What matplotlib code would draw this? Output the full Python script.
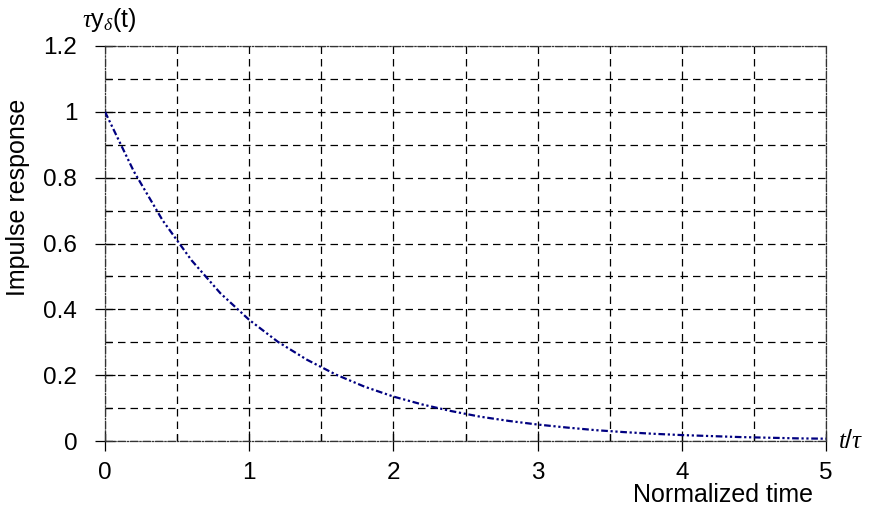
import matplotlib
matplotlib.use("Agg")
import matplotlib.pyplot as plt
from matplotlib.ticker import MultipleLocator

plt.rcParams['font.family'] = ['Liberation Sans', 'DejaVu Sans']
plt.rcParams['mathtext.fontset'] = 'custom'
plt.rcParams['mathtext.rm'] = 'Liberation Sans'
plt.rcParams['mathtext.it'] = 'Liberation Serif:italic'

t_values = [0.0, 0.2, 0.4, 0.6, 0.8, 1.0, 1.2, 1.4, 1.6, 1.8, 2.0, 2.2, 2.4, 2.6,
            2.8, 3.0, 3.2, 3.4, 3.6, 3.8, 4.0, 4.2, 4.4, 4.6, 4.8, 5.0]
response = [1.0, 0.819, 0.670, 0.549, 0.449, 0.368, 0.301, 0.247, 0.202, 0.165,
            0.135, 0.111, 0.091, 0.074, 0.061, 0.050, 0.041, 0.033, 0.027, 0.022,
            0.018, 0.015, 0.012, 0.010, 0.008, 0.007]
x_ticks = [0, 1, 2, 3, 4, 5]
y_ticks = [0, 0.2, 0.4, 0.6, 0.8, 1.0, 1.2]
y_tick_labels = ['0', '0.2', '0.4', '0.6', '0.8', '1', '1.2']

fig = plt.figure(figsize=(8.73, 5.09), dpi=100)
ax = fig.add_axes([105/873, 1-441/509, (826-105)/873, (441-46)/509])

ax.set_xlim(0, 5)
ax.set_ylim(0, 1.2)

ax.xaxis.set_minor_locator(MultipleLocator(0.5))
ax.yaxis.set_minor_locator(MultipleLocator(0.1))
ax.grid(True, which='both', color='black', linestyle=(0, (6, 4)), linewidth=0.9)
ax.set_axisbelow(True)

ax.plot(t_values, response, color='#000080', linewidth=1.6,
        linestyle=(0, (3, 1.2, 1, 1.2, 1, 1.2)), zorder=3)

for s in ax.spines.values():
    s.set_linestyle((0, (6, 1.5, 1, 1.5)))
    s.set_linewidth(0.9)
    s.set_color('#333333')

ax.set_xticks(x_ticks)
ax.set_xticklabels([str(v) for v in x_ticks])
ax.set_yticks(y_ticks)
ax.set_yticklabels(y_tick_labels)
ax.tick_params(which='major', direction='inout', length=14, width=0.9,
               labelsize=17.5)
ax.tick_params(axis='x', which='major', pad=8)
ax.tick_params(axis='y', which='major', pad=13)
ax.tick_params(which='minor', direction='in', length=5, width=0.9)

fig.text(18/873, 1-197/509, 'Impulse response', fontsize=18, rotation=90,
         ha='center', va='center')
fig.text(813/873, 1-495/509, 'Normalized time', fontsize=18, ha='right', va='center')
fig.text(838/873, 1-441/509, r'$t/\tau$', fontsize=18, ha='left', va='center')
fig.text(82/873, 1-20/509, r'$\tau$y$_{\delta}$(t)', fontsize=18, ha='left', va='center')

fig.savefig('out.png', dpi=100)
